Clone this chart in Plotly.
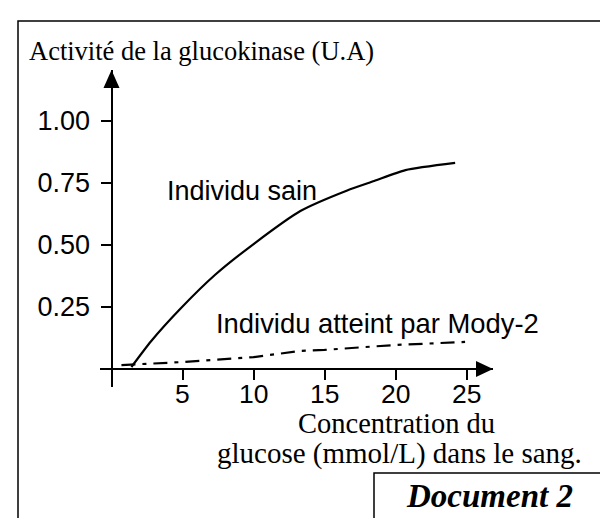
import plotly.graph_objects as go

# ---- data ----
healthy_x = [1.4, 2.8, 4.9, 7.3, 10.1, 13.3, 16.6, 18.5, 20.7, 24.2]
healthy_y = [0.008, 0.113, 0.246, 0.38, 0.508, 0.637, 0.72, 0.758, 0.802, 0.831]
mody_x = [0.7, 5.0, 10.0, 13.3, 15.0, 20.0, 24.9]
mody_y = [0.016, 0.028, 0.048, 0.073, 0.077, 0.097, 0.109]
x_ticks = [5, 10, 15, 20, 25]
x_ticktext = ["5", "10", "15", "20", "25"]
y_ticks = [0.25, 0.5, 0.75, 1.0]
y_ticktext = ["0.25", "0.50", "0.75", "1.00"]

# ---- layout geometry (pixels) ----
FW, FH = 608, 518
L, R, T, B = 92, 485, 62, 379          # plot area edges
PW, PH = R - L, B - T
X0PIX, Y0PIX = 103.5, 361              # pixel of data origin
XS, YS = 14.2, 248.0                   # pixels per unit

xr = [(L - X0PIX) / XS, (R - X0PIX) / XS]
yr = [(Y0PIX - B) / YS, (Y0PIX - T) / YS]


def px(p):
    return (p - L) / PW


def py(p):
    return (B - p) / PH


def dx(p):
    return (p - X0PIX) / XS


def dy(p):
    return (Y0PIX - p) / YS


SANS = "Liberation Sans"
SERIF = "Liberation Serif"

fig = go.Figure()
fig.add_trace(go.Scatter(x=healthy_x, y=healthy_y, mode="lines",
                         line=dict(color="black", width=2.2, shape="spline", smoothing=0.6),
                         hoverinfo="skip", showlegend=False))
fig.add_trace(go.Scatter(x=mody_x, y=mody_y, mode="lines",
                         line=dict(color="black", width=2.2, dash="14px,7px,4px,7px"),
                         hoverinfo="skip", showlegend=False))

shapes = []
# arrowheads
shapes.append(dict(type="path", xref="x", yref="y",
                   path=f"M {dx(103.5-8)},{dy(80)} L {dx(103.5+8)},{dy(80)} L {dx(103.5)},{dy(T)} Z",
                   fillcolor="black", line=dict(width=0)))
shapes.append(dict(type="path", xref="x", yref="y",
                   path=f"M {dx(468)},{dy(361-8)} L {dx(468)},{dy(361+8)} L {dx(R)},{dy(361)} Z",
                   fillcolor="black", line=dict(width=0)))
# outer frame
shapes.append(dict(type="rect", xref="paper", yref="paper",
                   x0=px(10), x1=px(602), y0=py(530), y1=py(13),
                   line=dict(color="black", width=1.5), fillcolor="rgba(0,0,0,0)"))
# document box
shapes.append(dict(type="rect", xref="paper", yref="paper",
                   x0=px(366), x1=px(602), y0=py(530), y1=py(465),
                   line=dict(color="black", width=1.5), fillcolor="rgba(0,0,0,0)"))

annotations = [
    dict(text="Activité de la glucokinase (U.A)", xref="paper", yref="paper",
         x=px(19), y=py(43), xanchor="left", yanchor="middle", showarrow=False,
         font=dict(family=SERIF, size=26.5, color="black")),
    dict(text="Concentration du", xref="paper", yref="paper",
         x=px(388), y=py(415), xanchor="center", yanchor="middle", showarrow=False,
         font=dict(family=SERIF, size=28.5, color="black")),
    dict(text="glucose (mmol/L) dans le sang.", xref="paper", yref="paper",
         x=px(391), y=py(445), xanchor="center", yanchor="middle", showarrow=False,
         font=dict(family=SERIF, size=29, color="black")),
    dict(text="<b><i>Document 2</i></b>", xref="paper", yref="paper",
         x=px(481), y=py(488), xanchor="center", yanchor="middle", showarrow=False,
         font=dict(family=SERIF, size=33, color="black")),
    dict(text="Individu sain", xref="x", yref="y",
         x=dx(233.5), y=dy(182.5), xanchor="center", yanchor="middle", showarrow=False,
         font=dict(family=SANS, size=27, color="black")),
    dict(text="Individu atteint par Mody-2", xref="x", yref="y",
         x=dx(369.5), y=dy(315), xanchor="center", yanchor="middle", showarrow=False,
         font=dict(family=SANS, size=27.4, color="black")),
]
# x tick labels, placed on the x data scale, below the axis
for v, t in zip(x_ticks, x_ticktext):
    annotations.append(dict(text=t, xref="x", yref="paper", x=v, y=py(386),
                            xanchor="center", yanchor="middle", showarrow=False,
                            font=dict(family=SANS, size=26.5, color="black")))

fig.update_layout(
    width=FW, height=FH, autosize=False,
    margin=dict(l=L, r=FW - R, t=T, b=FH - B, pad=0),
    paper_bgcolor="white", plot_bgcolor="white",
    shapes=shapes, annotations=annotations,
    xaxis=dict(range=xr, anchor="free", position=(B - Y0PIX) / PH,
               showline=True, linecolor="black", linewidth=2,
               showgrid=False, zeroline=False,
               ticks="outside", ticklen=10, tickwidth=2, tickcolor="black",
               tickvals=x_ticks, showticklabels=False),
    yaxis=dict(range=yr, anchor="free", position=(X0PIX - L) / PW,
               showline=True, linecolor="black", linewidth=2,
               showgrid=False, zeroline=False,
               ticks="outside", ticklen=10, tickwidth=2, tickcolor="black",
               tickvals=y_ticks, ticktext=y_ticktext, ticklabelstandoff=5,
               tickfont=dict(family=SANS, size=27, color="black")),
)

fig.write_html("out.html")
